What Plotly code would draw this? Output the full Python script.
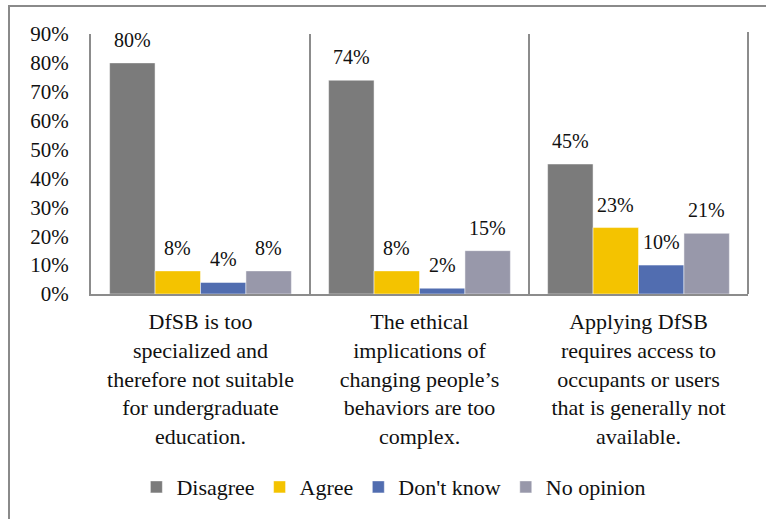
import plotly.graph_objects as go

# Survey responses per statement (percent)
categories = [
    "DfSB is too<br>specialized and<br>therefore not suitable<br>for undergraduate<br>education.",
    "The ethical<br>implications of<br>changing people’s<br>behaviors are too<br>complex.",
    "Applying DfSB<br>requires access to<br>occupants or users<br>that is generally not<br>available.",
]
series_names = ["Disagree", "Agree", "Don't know", "No opinion"]
disagree = [80, 74, 45]
agree = [8, 8, 23]
dont_know = [4, 2, 10]
no_opinion = [8, 15, 21]
y_ticks = [0, 10, 20, 30, 40, 50, 60, 70, 80, 90]

series_values = [disagree, agree, dont_know, no_opinion]
colors = ["#7b7b7b", "#f4c300", "#516db0", "#9898aa"]

FONT = "Liberation Serif"
TXT = "#111111"
LINE = "#8c8c8c"
BARGAP = 0.17

fig = go.Figure()
for name, vals, col in zip(series_names, series_values, colors):
    fig.add_trace(go.Bar(
        x=categories,
        y=[v / 100 for v in vals],
        name=name,
        marker=dict(color=col, line=dict(color="rgba(255,255,255,0.6)", width=0.8)),
    ))

# value labels above each bar (category axis: x given as category index)
n = len(series_values)
w = (1 - BARGAP) / n
for j, vals in enumerate(series_values):
    for i, v in enumerate(vals):
        fig.add_annotation(
            x=i + (j - (n - 1) / 2) * w,
            y=v / 100,
            xref="x", yref="y",
            text=f"{v}%",
            showarrow=False,
            yshift=23,
            yanchor="middle",
            font=dict(family=FONT, size=20, color=TXT),
        )

fig.update_layout(
    template="none",
    width=766, height=519,
    margin=dict(l=91, r=18, t=34, b=224),
    paper_bgcolor="white",
    plot_bgcolor="white",
    barmode="group",
    bargap=BARGAP,
    bargroupgap=0,
    showlegend=True,
    legend=dict(
        orientation="h",
        x=0.461, xanchor="center",
        y=-0.736, yanchor="middle",
        font=dict(family=FONT, size=22, color=TXT),
        itemwidth=30,
        traceorder="normal",
    ),
)
fig.update_xaxes(
    type="category",
    tickson="boundaries",
    ticks="",
    showgrid=True,
    gridcolor=LINE,
    gridwidth=2,
    showline=True,
    linecolor=LINE,
    linewidth=2,
    zeroline=False,
    tickfont=dict(family=FONT, size=22, color=TXT),
    ticklabelstandoff=7,
    fixedrange=True,
)
fig.update_yaxes(
    range=[0, 0.9],
    tickmode="array",
    tickvals=[t / 100 for t in y_ticks],
    ticktext=[f"{t}%" for t in y_ticks],
    showgrid=False,
    zeroline=False,
    showline=True,
    linecolor=LINE,
    linewidth=2,
    ticks="",
    tickfont=dict(family=FONT, size=21, color=TXT),
    ticklabelstandoff=16,
    fixedrange=True,
)
# closing category divider on the right edge of the plot area
fig.add_shape(
    type="line", xref="paper", yref="paper",
    x0=1, x1=1, y0=0, y1=1.008,
    line=dict(color=LINE, width=2),
)
# outer chart frame
fig.add_shape(
    type="rect", xref="paper", yref="paper",
    x0=(9 - 91) / 657, x1=1.2, y0=-1.2, y1=(295 - 6) / 261,
    line=dict(color="#8a8a8a", width=2), fillcolor="rgba(0,0,0,0)",
    layer="below",
)

fig.write_html("out.html")
